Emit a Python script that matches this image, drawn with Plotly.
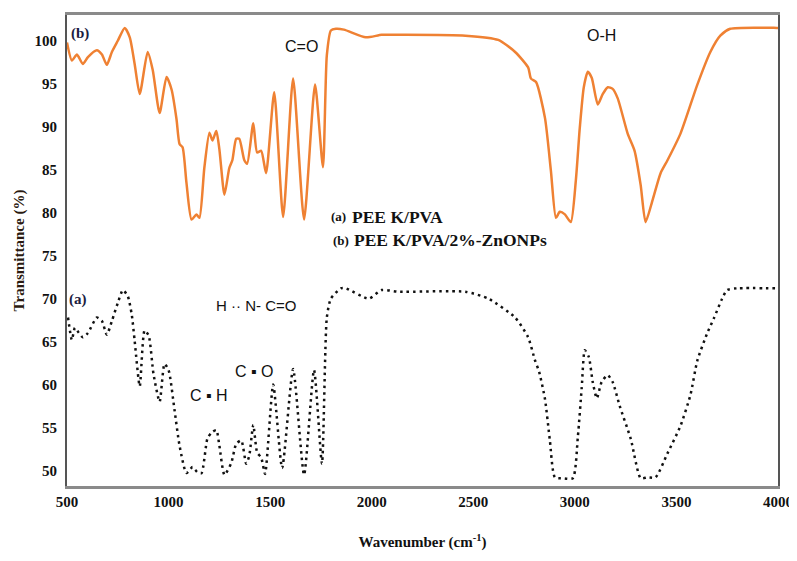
import plotly.graph_objects as go

# (b) PEEK/PVA/2%-ZnONPs  (orange, solid)
wn_b = [500, 524, 549, 578, 603, 647, 672, 696, 721, 750, 784, 809, 833, 858, 897, 922, 956, 990,
        1015, 1039, 1054, 1069, 1088, 1113, 1137, 1152, 1176, 1201, 1216, 1235, 1250, 1275, 1299,
        1314, 1333, 1348, 1373, 1387, 1417, 1436, 1456, 1480, 1520, 1564, 1613, 1667, 1721, 1760,
        1779, 1799, 1824, 1863, 1971, 2049, 2132, 2461, 2623, 2706, 2770, 2784, 2809, 2853, 2882,
        2907, 2926, 2951, 2980, 3005, 3024, 3044, 3064, 3083, 3113, 3137, 3162, 3186, 3211, 3260,
        3294, 3324, 3348, 3383, 3422, 3456, 3520, 3603, 3667, 3716, 3765, 3995, 4000]
tr_b = [99.8, 97.7, 98.4, 97.3, 98.1, 98.9, 98.4, 97.2, 98.7, 100.0, 101.5, 100.4, 97.3, 93.8, 98.7,
        96.6, 91.6, 95.8, 94.3, 90.9, 88.0, 87.6, 83.5, 79.2, 79.8, 79.4, 85.2, 89.3, 88.4, 89.5,
        87.4, 82.1, 85.2, 86.1, 88.6, 88.6, 86.1, 85.7, 90.4, 87.0, 87.2, 84.6, 94.0, 79.5, 95.6,
        79.2, 94.9, 85.3, 98.3, 101.2, 101.4, 101.3, 100.4, 100.7, 100.7, 100.6, 100.1, 98.7, 96.9,
        95.6, 95.2, 91.0, 84.9, 79.4, 80.1, 79.8, 78.9, 83.8, 89.8, 94.6, 96.4, 95.7, 92.6, 93.8,
        94.6, 94.4, 93.3, 89.2, 87.2, 83.2, 78.9, 81.5, 84.6, 86.1, 89.2, 94.9, 98.7, 100.6, 101.4,
        101.5, 101.5]

# (a) PEEK/PVA  (black, dotted)
wn_a = [505, 524, 539, 559, 578, 603, 647, 672, 696, 721, 750, 775, 799, 819, 833, 858, 882, 902,
        926, 956, 980, 1000, 1029, 1054, 1088, 1118, 1142, 1162, 1191, 1211, 1235, 1250, 1275,
        1309, 1333, 1358, 1382, 1397, 1417, 1436, 1456, 1475, 1515, 1559, 1613, 1667, 1716, 1755,
        1779, 1799, 1848, 1873, 1985, 2049, 2132, 2461, 2574, 2706, 2770, 2804, 2824, 2853, 2877,
        2902, 2941, 2990, 3015, 3034, 3049, 3069, 3088, 3108, 3132, 3162, 3186, 3221, 3275, 3324,
        3358, 3397, 3456, 3520, 3569, 3603, 3652, 3686, 3725, 3750, 3799, 4000]
tr_a = [67.8, 65.2, 66.6, 66.0, 65.5, 66.0, 67.8, 67.4, 65.8, 67.4, 69.5, 71.0, 70.3, 68.1, 65.1,
        59.8, 66.3, 65.7, 61.2, 58.0, 62.4, 61.7, 57.1, 52.9, 49.7, 50.4, 49.8, 49.7, 53.7, 54.4,
        54.7, 52.9, 49.5, 50.9, 53.1, 53.5, 50.8, 51.7, 55.3, 52.1, 51.5, 49.6, 60.0, 50.3, 61.8,
        49.5, 61.7, 50.8, 67.8, 70.0, 71.2, 71.2, 70.0, 71.0, 70.8, 70.8, 70.0, 67.8, 65.5, 62.8,
        61.5, 58.3, 53.5, 49.2, 49.1, 49.1, 54.0, 59.7, 64.0, 63.2, 60.3, 58.4, 60.3, 61.1, 60.3,
        57.5, 53.7, 49.1, 49.2, 49.2, 52.0, 55.2, 58.8, 62.8, 66.0, 67.8, 70.0, 71.0, 71.2, 71.2]

x_ticks = [500, 1000, 1500, 2000, 2500, 3000, 3500, 4000]
y_ticks = [50, 55, 60, 65, 70, 75, 80, 85, 90, 95, 100]

serif = "Liberation Serif, Times New Roman, serif"
narrow = "Liberation Sans Narrow, Arial Narrow, Liberation Sans, sans-serif"

fig = go.Figure()
fig.add_trace(go.Scatter(x=wn_b, y=tr_b, mode="lines", line=dict(color="#EF8133", width=2.5, shape="spline", smoothing=0.6),
                         name="(b) PEEK/PVA/2%-ZnONPs", showlegend=False))
fig.add_trace(go.Scatter(x=wn_a, y=tr_a, mode="lines", line=dict(color="#111111", width=2.5, dash="2.5px,4px", shape="spline", smoothing=0.6),
                         name="(a) PEEK/PVA", showlegend=False))

ann = []
def add(text, x, y, font, size, xanchor="center", color="#111"):
    ann.append(dict(text=text, x=x, y=y, xref="x", yref="y", showarrow=False, xanchor=xanchor,
                    yanchor="middle", font=dict(family=font, size=size, color=color)))

add("<b>(b)</b>", 512, 100.9, serif, 15, "left", "#1b2040")
add("C=O", 1652, 99.3, narrow, 16)
add("O-H", 3132, 100.6, narrow, 16)
add("<b>(a)</b>", 1790, 79.5, serif, 13, "left")
add("<b>PEE K/PVA</b>", 1895, 79.5, serif, 17.5, "left")
add("<b>(b)</b>", 1800, 76.8, serif, 13, "left")
add("<b>PEE K/PVA/2%-ZnONPs</b>", 1905, 76.8, serif, 17.5, "left")
add("<b>(a)</b>", 500, 69.9, serif, 15, "left", "#1b2040")
add("H \u00b7\u00b7 N- C=O", 1431, 69.2, narrow, 15)
add("C \u25aa O", 1422, 61.5, narrow, 16)
add("C \u25aa H", 1201, 58.7, narrow, 16)

fig.update_layout(
    width=789, height=545,
    margin=dict(l=59, r=19, t=4, b=62),
    paper_bgcolor="white", plot_bgcolor="white",
    annotations=ann,
    xaxis=dict(range=[500, 4000], tickvals=x_ticks, ticktext=["<b>%d</b>" % v for v in x_ticks],
               showgrid=False, zeroline=False, showline=True, linecolor="#8a8a8a", linewidth=3, mirror=True,
               ticks="", ticklabeloverflow="allow", tickfont=dict(family=serif, size=15, color="#111"),
               title=dict(text="<b>Wavenumber (cm<sup>-1</sup>)</b>", font=dict(family=serif, size=15, color="#111"), standoff=28)),
    yaxis=dict(range=[48.2, 103], tickvals=y_ticks, ticktext=["<b>%d</b>" % v for v in y_ticks],
               showgrid=False, zeroline=False, showline=True, linecolor="#555", linewidth=2, mirror=True,
               ticks="", ticklabelstandoff=5, tickfont=dict(family=serif, size=15, color="#111"),
               title=dict(text="<b>Transmittance (%)</b>", font=dict(family=serif, size=15, color="#2a1a10"), standoff=6)),
)

fig.write_html("out.html")
